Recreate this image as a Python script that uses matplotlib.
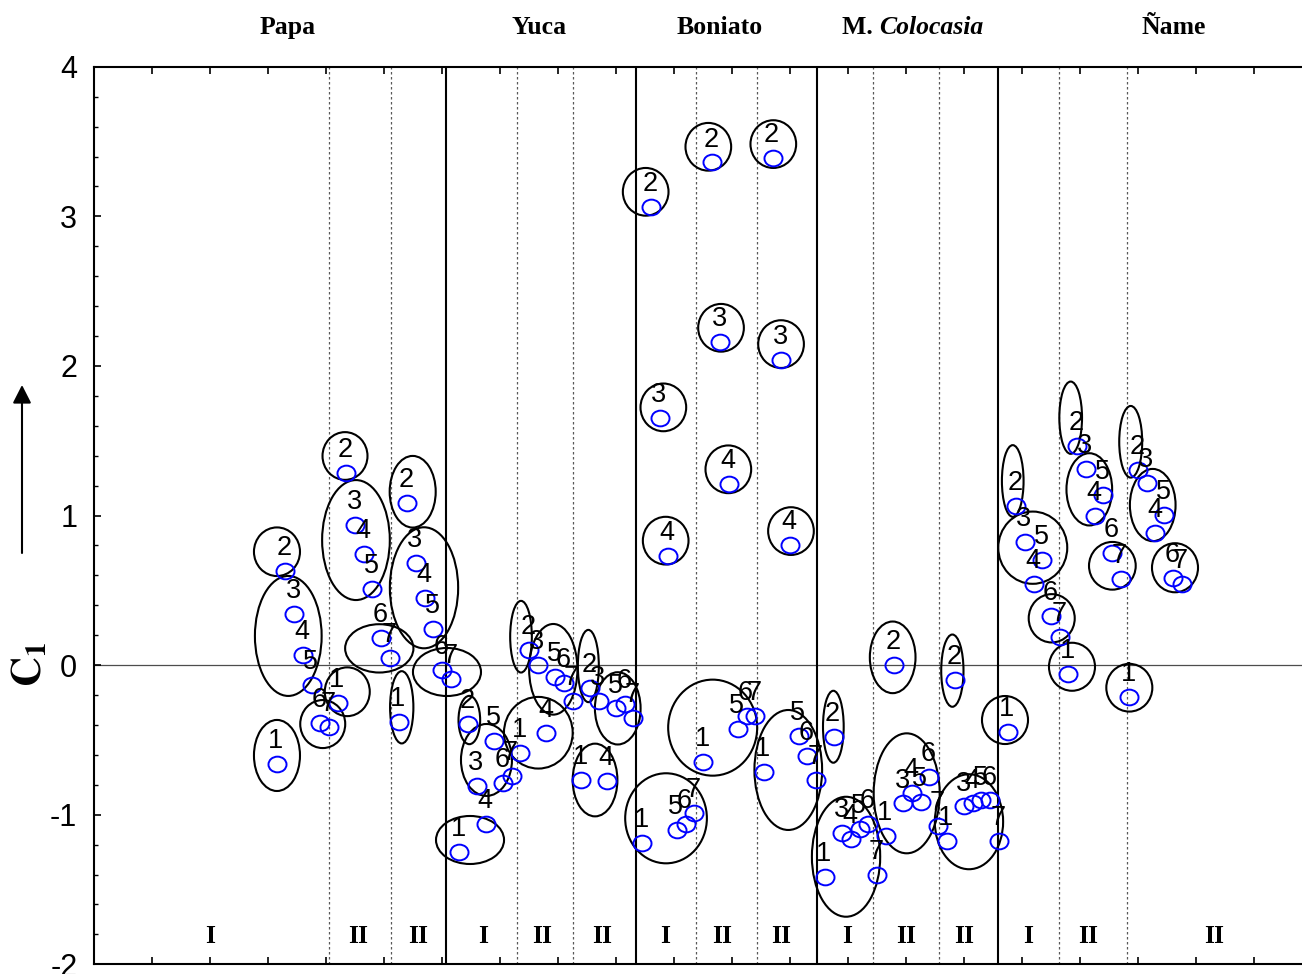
import numpy as np
import matplotlib
matplotlib.use("Agg")
import matplotlib.pyplot as plt
from matplotlib.patches import Ellipse
from matplotlib.path import Path

# C1 scores: 7 samples per column, columns I, II, II for each crop
papa = [-0.66, 0.63, 0.34, 0.065, -0.13, -0.385, -0.415,
        -0.255, 1.285, 0.935, 0.745, 0.51, 0.18, 0.05,
        -0.38, 1.085, 0.685, 0.45, 0.24, -0.03, -0.09]
yuca = [-1.25, -0.395, -0.81, -1.065, -0.505, -0.785, -0.74,
        -0.585, 0.10, 0.0, -0.455, -0.08, -0.12, -0.24,
        -0.77, -0.15, -0.24, -0.775, -0.29, -0.26, -0.355]
boniato = [-1.19, 3.065, 1.65, 0.73, -1.10, -1.06, -0.99,
           -0.65, 3.36, 2.16, 1.21, -0.425, -0.34, -0.34,
           -0.715, 3.39, 2.04, 0.805, -0.475, -0.605, -0.77]
colocasia = [-1.415, -0.48, -1.125, -1.16, -1.095, -1.06, -1.405,
             -1.145, 0.0, -0.925, -0.855, -0.915, -0.745, -1.075,
             -1.175, -0.10, -0.945, -0.925, -0.905, -0.905, -1.175]
name = [-0.445, 1.065, 0.82, 0.545, 0.705, 0.33, 0.19,
        -0.06, 1.465, 1.31, 1.0, 1.135, 0.75, 0.575,
        -0.21, 1.305, 1.215, 0.885, 1.005, 0.585, 0.545]
sample_labels = ["1", "2", "3", "4", "5", "6", "7"]
first_sample = 21

crops = ["Papa", "Yuca", "Boniato", "M.", "Ñame"]
crop_x = [22.3, 51.2, 71.95, 90.2, 124.1]
columns = ["I", "II", "II", "I", "II", "II", "I", "II", "II",
           "I", "II", "II", "I", "II", "II"]
column_x = [13.33, 30.38, 37.21, 44.68, 51.53, 58.36, 65.63, 72.15, 78.93,
            86.52, 93.33, 100.03, 107.39, 114.29, 128.77]
solid_x = [40.46, 62.26, 83.14, 103.94]
dotted_x = [27.05, 34.1, 48.59, 55.03, 69.2, 76.17, 89.57, 97.09, 110.95, 118.7]
yticks = [-2, -1, 0, 1, 2, 3, 4]

# grouping ellipses: centre x, centre y, width, height
ell_x = [21.03, 21.03, 22.33, 26.29, 29.11, 28.85, 30.11, 32.79, 36.63, 37.93,
         40.57, 35.37, 43.22, 43.14, 45.11, 51.07, 49.08, 52.79, 56.82, 60.20,
         57.59, 63.41, 65.44, 65.71, 65.75, 70.61, 72.07, 72.91, 71.11, 78.08,
         78.97, 80.11, 79.80, 84.98, 86.44, 91.80, 93.41, 98.66, 100.57, 104.71,
         105.60, 107.90, 110.08, 112.41, 112.26, 114.40, 117.05, 119.0, 119.16,
         121.69, 124.25]
ell_y = [-0.604, 0.758, 0.195, -0.394, -0.178, 1.398, 0.836, 0.112, 1.159, 0.517,
         -0.046, -0.282, -1.169, -0.367, -0.634, -0.452, 0.190, -0.028, -0.006, -0.289,
         -0.768, 3.164, 1.723, 0.832, -1.024, 3.465, 2.255, 1.309, -0.418, 3.483,
         2.146, 0.896, -0.701, -0.412, -1.281, 0.052, -0.857, -0.037, -1.047, -0.367,
         1.231, 0.785, 0.313, -0.011, 1.654, 1.175, 0.664, -0.151, 1.493,
         1.070, 0.651]
ell_w = [5.29, 5.29, 7.67, 5.17, 5.17, 5.17, 7.78, 7.85, 5.29, 7.85,
         7.82, 2.68, 7.82, 2.49, 5.86, 7.90, 2.49, 5.55, 2.41, 5.25,
         5.14, 5.25, 5.25, 5.25, 9.39, 5.25, 5.25, 5.25, 10.23, 5.25,
         5.25, 5.25, 7.78, 2.38, 7.85, 5.25, 7.59, 2.56, 7.85, 5.29,
         2.49, 7.93, 5.29, 5.29, 2.61, 5.25, 5.37, 5.29, 2.64,
         5.25, 5.29]
ell_h = [0.475, 0.325, 0.802, 0.321, 0.326, 0.319, 0.802, 0.323, 0.479, 0.809,
         0.321, 0.483, 0.321, 0.323, 0.481, 0.479, 0.479, 0.606, 0.483, 0.483,
         0.486, 0.319, 0.319, 0.319, 0.602, 0.319, 0.319, 0.319, 0.642, 0.319,
         0.319, 0.319, 0.802, 0.481, 0.802, 0.479, 0.802, 0.483, 0.635, 0.321,
         0.479, 0.483, 0.323, 0.321, 0.483, 0.483, 0.319, 0.319, 0.479,
         0.483, 0.328]

scores = np.concatenate([papa, yuca, boniato, colocasia, name])
samples = first_sample + np.arange(len(scores))
labels = sample_labels * (len(scores) // 7)

fig = plt.figure(figsize=(13.02, 9.74), dpi=100)
ax = fig.add_axes([0.0722, 0.00996, 0.9355, 0.9215])
ax.set_xlim(0, 140)
ax.set_ylim(-2, 4)

serif = "Liberation Serif"
sans = "Liberation Sans"

ax.axhline(0, color="0.3", lw=0.9, zorder=1)
for x in solid_x:
    ax.axvline(x, color="k", lw=1.5, zorder=1)
for x in dotted_x:
    ax.axvline(x, color="0.35", lw=0.9, ls=(0, (2, 2)), zorder=1)

for cx, cy, w, h in zip(ell_x, ell_y, ell_w, ell_h):
    ax.add_patch(Ellipse((cx, cy), w, h, fill=False, ec="k", lw=1.5, zorder=3))

circ = Path.unit_circle()
oval = Path(circ.vertices * [1.0, 0.87], circ.codes)
ax.plot(samples, scores, ls="none", marker=oval, ms=13, mfc="none",
        mec="#0000ff", mew=1.4, zorder=4)
for x, y, t in zip(samples, scores, labels):
    ax.annotate(t, (x, y), xytext=(-0.7, 11.5), textcoords="offset points",
                ha="center", va="baseline", fontsize=19.5, family=sans, zorder=5)

# crop names over the plot, column classes along the bottom
for c, x in zip(crops, crop_x):
    if c == "M.":
        ax.text(x, 4.265, "M. ", ha="right", va="center", fontsize=18.5,
                family=serif, weight="bold", clip_on=False)
        ax.text(x, 4.265, "Colocasia", ha="left", va="center", fontsize=18.5,
                family=serif, weight="bold", style="italic", clip_on=False)
    else:
        ax.text(x, 4.265, c, ha="center", va="center", fontsize=18.5,
                family=serif, weight="bold", clip_on=False)
for c, x in zip(columns, column_x):
    ax.text(x, -1.817, c, ha="center", va="center", fontsize=18.5,
            family=serif, weight="bold")

ax.set_xticks(np.arange(0, 141, 20 / 3))
ax.set_xticklabels([])
ax.set_yticks(yticks)
ax.set_yticklabels([str(v) for v in yticks], family=sans, fontsize=22)
ax.set_yticks(np.arange(-2, 4.01, 0.2), minor=True)
ax.tick_params(axis="x", which="both", direction="in", top=True, length=5, width=1.2)
ax.tick_params(axis="y", which="major", direction="in", length=5, width=1.2, pad=12)
ax.tick_params(axis="y", which="minor", direction="in", length=3, width=1.0)
for s in ["left", "top", "bottom"]:
    ax.spines[s].set_linewidth(1.5)
ax.spines["right"].set_visible(False)

plt.rcParams["mathtext.fontset"] = "stix"
fig.text(29 / 1302, 1 - 664 / 974, r"$\mathbf{C}_{\mathbf{1}}$", rotation=90,
         ha="center", va="center", fontsize=30)
ax.annotate("", xy=(22, 974 - 385), xytext=(22, 974 - 553),
            xycoords="figure pixels", textcoords="figure pixels",
            arrowprops=dict(arrowstyle="-|>,head_length=0.55,head_width=0.28",
                            mutation_scale=20, lw=1.5, color="k",
                            shrinkA=0, shrinkB=0))

fig.savefig("out.png", dpi=100)
